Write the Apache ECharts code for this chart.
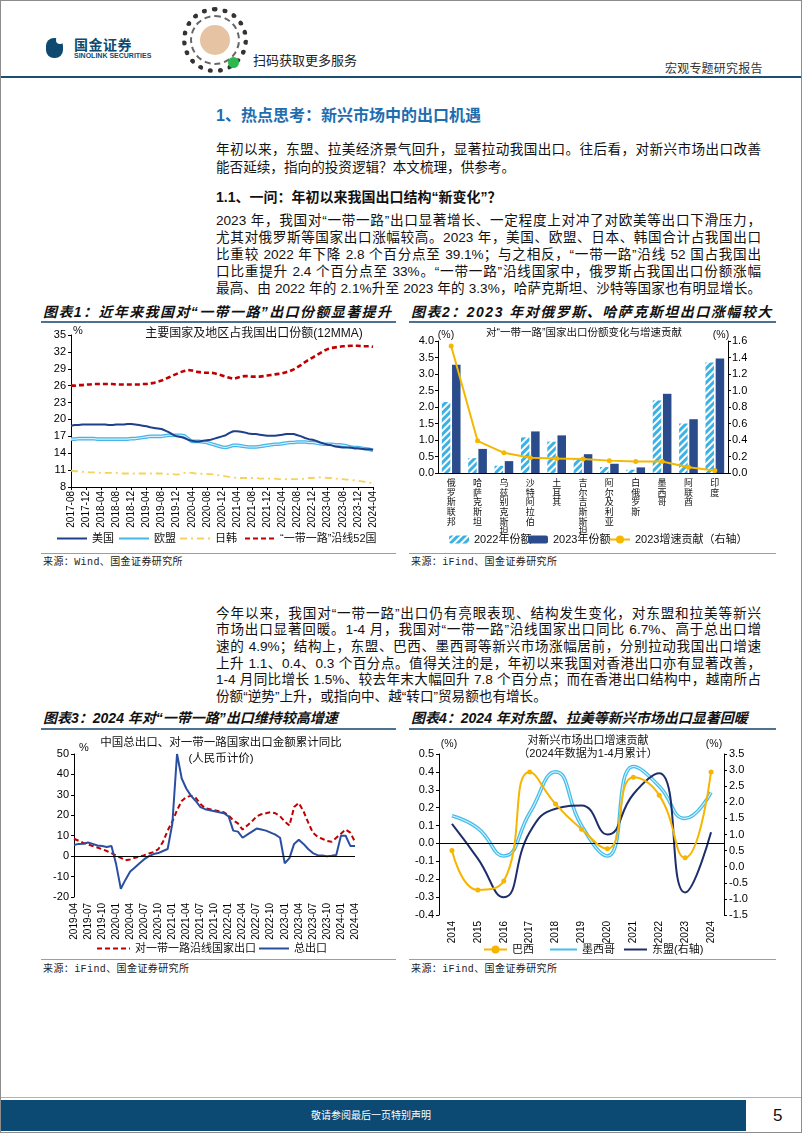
<!DOCTYPE html>
<html><head><meta charset="utf-8">
<script src="https://cdn.jsdelivr.net/npm/echarts/dist/echarts.min.js"></script>
<style>
body{margin:0;background:#fff;}
#page{position:relative;width:802px;height:1133px;overflow:hidden;background:#fff;box-sizing:border-box;border:1px solid #8c8c8c;font-family:"Liberation Sans","Noto Sans CJK SC",sans-serif;color:#111;}
.a{position:absolute;white-space:nowrap;}
.ln{position:absolute;left:215px;width:545px;font-size:13.6px;line-height:17px;height:17px;text-align:justify;text-align-last:justify;white-space:normal;overflow:visible;color:#111;}
.ln.last{text-align-last:left;}
.ctitle{position:absolute;font-size:14px;font-weight:bold;font-style:italic;color:#111;white-space:nowrap;line-height:18px;}
.cline{position:absolute;height:2px;background:#4d7290;}
.sline{position:absolute;height:1px;background:#86a4b8;}
.src{position:absolute;font-family:"Liberation Mono","Noto Sans CJK SC",monospace;font-size:10px;color:#222;letter-spacing:0.4px;white-space:nowrap;line-height:12px;}
.chart{position:absolute;}
</style></head>
<body>
<div id="page">
  <!-- header -->
  <div class="a" style="left:45px;top:37px;width:17px;height:20px;background:#0e4a70;border-radius:8px 8px 8px 8px;"></div>
  <div class="a" style="left:55px;top:35px;width:8px;height:8px;background:#fff;border-radius:50%;"></div>
  <div class="a" style="left:73px;top:33px;font-size:14px;font-weight:bold;color:#0e4a70;letter-spacing:0.5px;">国金证券</div>
  <div class="a" style="left:73px;top:51px;font-size:7px;font-weight:bold;color:#0e4a70;">SINOLINK SECURITIES</div>
  <div class="a" style="left:181px;top:6px;width:56px;height:56px;border:5px dotted #333;border-radius:50%;"></div>
  <div class="a" style="left:189px;top:14px;width:50px;height:50px;border:2px dashed #666;border-radius:50%;box-sizing:border-box;"></div>
  <div class="a" style="left:199px;top:24px;width:30px;height:30px;background:#e6c3a3;border-radius:50%;"></div>
  <div class="a" style="left:227px;top:56px;width:11px;height:11px;background:#2db84d;border-radius:50%;"></div>
  <div class="a" style="left:252px;top:49px;font-size:13px;color:#222;">扫码获取更多服务</div>
  <div class="a" style="left:664px;top:58px;font-size:12px;color:#333;letter-spacing:0.2px;">宏观专题研究报告</div>
  <div class="a" style="left:0;top:75px;width:802px;height:2px;background:#1e4e6e;"></div>

  <!-- body text -->
  <div class="a" style="left:215px;top:105px;font-size:16px;font-weight:bold;color:#1d6daf;line-height:20px;">1、热点思考：新兴市场中的出口机遇</div>
  <div class="ln" style="top:139.5px;">年初以来，东盟、拉美经济景气回升，显著拉动我国出口。往后看，对新兴市场出口改善</div>
  <div class="ln last" style="top:157.5px;">能否延续，指向的投资逻辑？本文梳理，供参考。</div>
  <div class="a" style="left:215px;top:187px;font-size:14px;font-weight:bold;line-height:18px;">1.1、一问：年初以来我国出口结构“新变化”？</div>
  <div class="ln" style="top:210.5px;">2023 年，我国对“一带一路”出口显著增长、一定程度上对冲了对欧美等出口下滑压力，</div>
  <div class="ln" style="top:227.5px;">尤其对俄罗斯等国家出口涨幅较高。2023 年，美国、欧盟、日本、韩国合计占我国出口</div>
  <div class="ln" style="top:244.5px;">比重较 2022 年下降 2.8 个百分点至 39.1%；与之相反，“一带一路”沿线 52 国占我国出</div>
  <div class="ln" style="top:261.5px;">口比重提升 2.4 个百分点至 33%。“一带一路”沿线国家中，俄罗斯占我国出口份额涨幅</div>
  <div class="ln" style="top:278.5px;">最高、由 2022 年的 2.1%升至 2023 年的 3.3%，哈萨克斯坦、沙特等国家也有明显增长。</div>

  <div class="ln" style="top:603.5px;">今年以来，我国对“一带一路”出口仍有亮眼表现、结构发生变化，对东盟和拉美等新兴</div>
  <div class="ln" style="top:620.2px;">市场出口显著回暖。1-4 月，我国对“一带一路”沿线国家出口同比 6.7%、高于总出口增</div>
  <div class="ln" style="top:636.9px;">速的 4.9%；结构上，东盟、巴西、墨西哥等新兴市场涨幅居前，分别拉动我国出口增速</div>
  <div class="ln" style="top:653.6px;">上升 1.1、0.4、0.3 个百分点。值得关注的是，年初以来我国对香港出口亦有显著改善，</div>
  <div class="ln" style="top:670.3px;">1-4 月同比增长 1.5%、较去年末大幅回升 7.8 个百分点；而在香港出口结构中，越南所占</div>
  <div class="ln last" style="top:687px;">份额“逆势”上升，或指向中、越“转口”贸易额也有增长。</div>

  <!-- chart frames -->
  <div class="ctitle" style="left:42px;top:302px;letter-spacing:1.4px;">图表1：近年来我国对“一带一路”出口份额显著提升</div>
  <div class="cline" style="left:40px;top:320px;width:355px;"></div>
  <div class="ctitle" style="left:410px;top:302px;letter-spacing:1.5px;">图表2：2023 年对俄罗斯、哈萨克斯坦出口涨幅较大</div>
  <div class="cline" style="left:408px;top:320px;width:367px;"></div>
  <div id="c1" class="chart" style="left:40px;top:323px;width:355px;height:229px;"></div>
  <div id="c2" class="chart" style="left:408px;top:323px;width:367px;height:229px;"></div>
  <div class="sline" style="left:40px;top:552px;width:355px;"></div>
  <div class="sline" style="left:408px;top:552px;width:367px;"></div>
  <div class="src" style="left:42px;top:556px;">来源：Wind、国金证券研究所</div>
  <div class="src" style="left:410px;top:556px;">来源：iFind、国金证券研究所</div>

  <div class="ctitle" style="left:42px;top:708px;">图表3：2024 年对“一带一路”出口维持较高增速</div>
  <div class="cline" style="left:40px;top:727px;width:355px;"></div>
  <div class="ctitle" style="left:410px;top:708px;">图表4：2024 年对东盟、拉美等新兴市场出口显著回暖</div>
  <div class="cline" style="left:408px;top:727px;width:367px;"></div>
  <div id="c3" class="chart" style="left:40px;top:730px;width:355px;height:228px;"></div>
  <div id="c4" class="chart" style="left:408px;top:730px;width:367px;height:228px;"></div>
  <div class="sline" style="left:40px;top:958px;width:355px;"></div>
  <div class="sline" style="left:408px;top:958px;width:367px;"></div>
  <div class="src" style="left:42px;top:963px;">来源：iFind、国金证券研究所</div>
  <div class="src" style="left:410px;top:963px;">来源：iFind、国金证券研究所</div>

  <!-- footer -->
  <div class="a" style="left:0;top:1096px;width:802px;height:1px;background:#8fbcd2;"></div>
  <div class="a" style="left:0;top:1099px;width:745px;height:31px;background:#0c4a73;"></div>
  <div class="a" style="left:310px;top:1108px;width:120px;text-align:center;font-size:10px;color:#fff;line-height:14px;">敬请参阅最后一页特别声明</div>
  <div class="a" style="left:772px;top:1105px;font-size:17px;color:#111;line-height:20px;">5</div>
</div>
<script>
const FF = '"Liberation Sans","Noto Sans CJK SC",sans-serif';

// ---------- Chart 1 data ----------
const months1 = ['2017-08','2017-09','2017-10','2017-11','2017-12',
'2018-01','2018-02','2018-03','2018-04','2018-05','2018-06','2018-07','2018-08','2018-09','2018-10','2018-11','2018-12',
'2019-01','2019-02','2019-03','2019-04','2019-05','2019-06','2019-07','2019-08','2019-09','2019-10','2019-11','2019-12',
'2020-01','2020-02','2020-03','2020-04','2020-05','2020-06','2020-07','2020-08','2020-09','2020-10','2020-11','2020-12',
'2021-01','2021-02','2021-03','2021-04','2021-05','2021-06','2021-07','2021-08','2021-09','2021-10','2021-11','2021-12',
'2022-01','2022-02','2022-03','2022-04','2022-05','2022-06','2022-07','2022-08','2022-09','2022-10','2022-11','2022-12',
'2023-01','2023-02','2023-03','2023-04','2023-05','2023-06','2023-07','2023-08','2023-09','2023-10','2023-11','2023-12',
'2024-01','2024-02','2024-03','2024-04'];
const us1 = [18.9,19.0,19.0,19.1,19.1,
19.1,19.1,19.1,19.1,19.1,19.0,19.0,19.1,19.1,19.1,19.2,19.2,
19.1,19.0,18.9,18.8,18.6,18.5,18.4,18.3,18.0,17.7,17.3,17.0,
16.9,16.7,16.4,16.2,16.1,16.1,16.2,16.3,16.4,16.6,16.8,17.0,
17.2,17.6,17.9,17.9,17.8,17.7,17.5,17.4,17.4,17.3,17.2,17.1,
17.1,17.1,17.2,17.3,17.4,17.4,17.4,17.2,17.0,16.7,16.5,16.4,
16.2,15.9,15.7,15.5,15.4,15.2,15.1,15.0,15.0,15.0,14.9,14.9,
14.8,14.7,14.7,14.6];
const eu1 = [16.5,16.5,16.6,16.6,16.6,
16.6,16.6,16.5,16.5,16.5,16.5,16.5,16.5,16.5,16.5,16.5,16.6,
16.6,16.7,16.8,16.9,17.0,17.0,17.0,17.0,17.1,17.2,17.2,17.2,
17.2,17.1,16.6,16.1,16.1,16.1,16.0,15.9,15.7,15.5,15.3,15.1,
15.0,15.2,15.4,15.4,15.3,15.2,15.1,15.1,15.1,15.2,15.3,15.4,
15.5,15.6,15.6,15.7,15.8,15.9,15.9,16.0,16.0,16.0,15.9,15.9,
15.8,15.7,15.6,15.6,15.6,15.5,15.5,15.4,15.3,15.1,15.0,15.0,
14.9,14.8,14.7,14.5];
const jk1 = [10.9,10.8,10.8,10.7,10.7,
10.6,10.6,10.6,10.5,10.5,10.5,10.5,10.5,10.4,10.4,10.4,10.4,
10.4,10.4,10.4,10.4,10.4,10.4,10.4,10.4,10.3,10.3,10.3,10.2,
10.3,10.5,10.6,10.5,10.4,10.4,10.3,10.3,10.3,10.2,10.1,10.0,
9.9,9.8,9.7,9.6,9.6,9.6,9.6,9.6,9.6,9.5,9.5,9.5,
9.5,9.5,9.4,9.4,9.4,9.4,9.4,9.4,9.4,9.5,9.6,9.6,
9.7,9.7,9.7,9.6,9.6,9.5,9.4,9.4,9.3,9.3,9.2,9.1,
9.0,8.9,8.8,8.7];
const br1 = [26.0,26.0,26.1,26.1,26.2,
26.2,26.3,26.3,26.3,26.3,26.3,26.3,26.2,26.2,26.2,26.2,26.2,
26.2,26.2,26.3,26.3,26.4,26.5,26.7,26.9,27.2,27.5,27.8,28.1,
28.4,28.6,28.8,28.7,28.5,28.4,28.3,28.3,28.3,28.2,28.0,27.8,
27.6,27.4,27.2,27.4,27.6,27.7,27.7,27.6,27.6,27.6,27.7,27.8,
27.9,28.0,28.1,28.2,28.4,28.6,28.9,29.3,29.7,30.2,30.6,31.0,
31.4,31.8,32.2,32.5,32.7,32.8,32.9,33.0,33.0,33.1,33.1,33.1,
33.0,33.0,33.0,32.9];

// ---------- Chart 2 data ----------
const cats2 = ['俄罗斯联邦','哈萨克斯坦','乌兹别克斯坦','沙特阿拉伯','土耳其','吉尔吉斯斯坦','阿尔及利亚','白俄罗斯','墨西哥','阿联酋','印度'];
const share2022 = [2.15,0.45,0.22,1.08,0.95,0.42,0.18,0.10,2.20,1.50,3.35];
const share2023 = [3.28,0.73,0.36,1.26,1.14,0.57,0.28,0.17,2.40,1.63,3.47];
const contrib2023 = [1.54,0.39,0.245,0.185,0.175,0.17,0.15,0.14,0.14,0.07,0.03];

// ---------- Chart 3 data ----------
const months3 = ['2019-04','2019-05','2019-06','2019-07','2019-08','2019-09','2019-10','2019-11','2019-12',
'2020-01','2020-02','2020-03','2020-04','2020-05','2020-06','2020-07','2020-08','2020-09','2020-10','2020-11','2020-12',
'2021-01','2021-02','2021-03','2021-04','2021-05','2021-06','2021-07','2021-08','2021-09','2021-10','2021-11','2021-12',
'2022-01','2022-02','2022-03','2022-04','2022-05','2022-06','2022-07','2022-08','2022-09','2022-10','2022-11','2022-12',
'2023-01','2023-02','2023-03','2023-04','2023-05','2023-06','2023-07','2023-08','2023-09','2023-10','2023-11','2023-12',
'2024-01','2024-02','2024-03','2024-04'];
const beltRoad3 = [8.5,7.5,6.5,5.7,5.0,4.2,3.4,2.5,1.5,
0.2,-0.8,-2.0,-1.6,-0.8,-0.2,0.5,1.3,2.0,3.4,7.0,12.5,
17.0,22.5,27.0,29.0,29.5,28.5,25.5,23.5,23.0,22.5,22.0,21.5,
20.0,17.5,16.0,13.0,15.0,17.0,19.5,20.5,21.0,21.5,21.0,19.5,
17.0,15.0,24.0,26.0,22.0,16.5,11.5,9.5,8.5,7.5,7.0,9.0,
11.0,13.0,11.5,7.0];
const total3 = [5.5,6.0,6.1,6.7,6.0,5.2,5.0,4.5,5.0,
-4.0,-16.0,-11.5,-7.5,-5.5,-3.5,-1.5,0.0,1.0,1.5,2.5,3.5,
16.0,50.0,38.0,33.0,29.5,27.0,24.0,23.0,22.5,22.0,21.5,21.0,
19.5,12.5,12.0,9.0,10.5,12.0,13.5,13.0,12.5,11.5,10.5,9.0,
-3.5,-1.0,6.0,8.0,6.0,3.5,1.5,0.5,0.3,0.0,0.2,0.6,
10.0,10.0,5.0,5.0];

// ---------- Chart 4 data ----------
const years4 = ['2014','2015','2016','2017','2018','2019','2020','2021','2022','2023','2024'];
const brazil4 = [-0.04,-0.26,-0.21,0.40,0.22,0.08,-0.03,0.37,0.27,-0.08,0.40];
const mexico4 = [0.155,0.085,-0.07,0.17,0.40,0.10,-0.07,0.43,0.32,0.14,0.285];
const asean4 = [1.33,0.25,-0.95,1.07,1.80,1.90,1.00,2.25,2.90,-0.80,1.07];

// ---------- helpers ----------
const txt = (t, x, y, size, align) => ({type:'text', x:x, y:y, silent:true,
  style:{text:t, fontSize:size, fontFamily:FF, fill:'#111', align:align||'center', verticalAlign:'middle'}});
// legend for one item; noSym hides the marker drawn for line series
const lg = (name, left, top, w, h, noSym) => {
  const o = {data:[name], left:left, top:top, padding:0, itemGap:0,
    itemWidth:w, itemHeight:h||10, textStyle:{fontSize:11, color:'#111', fontFamily:FF}, selectedMode:false};
  if (noSym) o.itemStyle = {opacity:0};
  return o;
};
const zeroLine = {silent:true, symbol:'none', label:{show:false}, lineStyle:{color:'#000', width:1, type:'solid'}, data:[{yAxis:0}]};

// ---------- Chart 1 ----------
const c1 = echarts.init(document.getElementById('c1'));
c1.setOption({
  animation:false,
  textStyle:{fontFamily:FF},
  graphic:[txt('主要国家及地区占我国出口份额(12MMA)', 213, 10, 12), txt('%', 37, 7, 11)],
  grid:{left:30, right:23, top:11, bottom:66, outerBoundsMode:'none'},
  legend:[lg('美国',15,209,30,10,true), lg('欧盟',77,209,30,10,true), lg('日韩',138,209,30,10,true), lg('“一带一路”沿线52国',203,209,30,10,true)],
  xAxis:{type:'category', data:months1, boundaryGap:false,
    axisLine:{show:true, onZero:false, lineStyle:{color:'#000'}},
    axisTick:{show:true, interval:3, length:3, lineStyle:{color:'#000'}},
    axisLabel:{interval:3, rotate:90, fontSize:10, color:'#000', margin:4, fontFamily:FF}},
  yAxis:{type:'value', min:8, max:35, interval:3,
    axisLine:{show:true, lineStyle:{color:'#000'}}, axisTick:{show:true, length:3, lineStyle:{color:'#000'}},
    splitLine:{show:false}, axisLabel:{fontSize:11, color:'#000', margin:5, fontFamily:FF}},
  series:[
    {name:'美国', type:'line', data:us1, symbol:'none', lineStyle:{color:'#203f8a', width:2}, itemStyle:{color:'#203f8a'}, z:4},
    {name:'欧盟', type:'line', data:eu1, symbol:'none', lineStyle:{color:'#46b5e8', width:3.6}, itemStyle:{color:'#46b5e8'}, z:2},
    {name:'欧盟_inner', type:'line', data:eu1, symbol:'none', lineStyle:{color:'#d6f0fb', width:1.1}, z:3},
    {name:'日韩', type:'line', data:jk1, symbol:'none', lineStyle:{color:'#f5d35a', width:1.8, type:[7,4,2,4]}, itemStyle:{color:'#f5d35a'}},
    {name:'“一带一路”沿线52国', type:'line', data:br1, symbol:'none', lineStyle:{color:'#c00000', width:2.6, type:[5,3]}, itemStyle:{color:'#c00000'}}
  ]
});

// ---------- Chart 2 ----------
const c2 = echarts.init(document.getElementById('c2'));
c2.setOption({
  animation:false,
  textStyle:{fontFamily:FF},
  graphic:[txt('对“一带一路”国家出口份额变化与增速贡献', 175, 9, 10.5), txt('(%)', 37, 11, 10.5), txt('(%)', 312, 11, 10.5)],
  grid:{left:29, right:48, top:17, bottom:80, outerBoundsMode:'none'},
  legend:[lg('2022年份额',40,210,20,8), lg('2023年份额',119,210,20,8), lg('2023增速贡献（右轴）',200,210,20,10)],
  xAxis:{type:'category', data:cats2,
    axisLine:{show:true, lineStyle:{color:'#000'}}, axisTick:{show:false},
    axisLabel:{interval:0, fontSize:9, lineHeight:9.6, color:'#111', margin:6, fontFamily:FF, verticalAlign:'top',
      overflow:'none', hideOverlap:false, formatter:v => v.split('').join('\n')}},
  yAxis:[
    {type:'value', min:0, max:4, interval:0.5, axisLine:{show:true, lineStyle:{color:'#000'}},
      axisTick:{show:true, length:3, lineStyle:{color:'#000'}}, splitLine:{show:false},
      axisLabel:{fontSize:11, color:'#000', margin:4, formatter:v => v.toFixed(1), fontFamily:FF}},
    {type:'value', min:0, max:1.6, interval:0.2, position:'right', axisLine:{show:true, lineStyle:{color:'#000'}},
      axisTick:{show:true, length:3, lineStyle:{color:'#000'}}, splitLine:{show:false},
      axisLabel:{fontSize:11, color:'#000', margin:4, formatter:v => v.toFixed(1), fontFamily:FF}}
  ],
  series:[
    {name:'2022年份额', type:'bar', data:share2022, barWidth:8.5, barGap:'20%',
      itemStyle:{color:'#ffffff', decal:{symbol:'rect', symbolSize:1, dashArrayX:[1,0], dashArrayY:[2.2,1.6], rotation:-Math.PI/4, color:'#3db1e3'}}},
    {name:'2023年份额', type:'bar', data:share2023, barWidth:8.5, itemStyle:{color:'#2b4c8c'}},
    {name:'2023增速贡献（右轴）', type:'line', yAxisIndex:1, data:contrib2023, symbol:'circle', symbolSize:5,
      lineStyle:{color:'#f5b800', width:2}, itemStyle:{color:'#f5b800'}, z:5}
  ]
});

// ---------- Chart 3 ----------
const c3 = echarts.init(document.getElementById('c3'));
c3.setOption({
  animation:false,
  textStyle:{fontFamily:FF},
  graphic:[txt('中国总出口、对一带一路国家出口金额累计同比', 180, 12, 11.5), txt('(人民币计价)', 180, 28, 11.5), txt('%', 43, 17, 11)],
  grid:{left:33, right:41, top:23, bottom:62, outerBoundsMode:'none'},
  legend:[lg('对一带一路沿线国家出口',55,212,33,10,true), lg('总出口',217,212,30,10,true)],
  xAxis:{type:'category', data:months3, boundaryGap:false,
    axisLine:{show:false, onZero:false}, axisTick:{show:false},
    axisLabel:{interval:2, rotate:90, fontSize:10, color:'#000', margin:6, fontFamily:FF}},
  yAxis:{type:'value', min:-20, max:50, interval:10,
    axisLine:{show:true, lineStyle:{color:'#000'}}, axisTick:{show:true, length:3, lineStyle:{color:'#000'}},
    splitLine:{show:false}, axisLabel:{fontSize:11, color:'#000', margin:5, fontFamily:FF}},
  series:[
    {name:'对一带一路沿线国家出口', type:'line', data:beltRoad3, symbol:'none', lineStyle:{color:'#c00000', width:2, type:[5,3]}, itemStyle:{color:'#c00000'}, markLine:zeroLine},
    {name:'总出口', type:'line', data:total3, symbol:'none', lineStyle:{color:'#2a4fa0', width:2}, itemStyle:{color:'#2a4fa0'}}
  ]
});

// ---------- Chart 4 ----------
const c4 = echarts.init(document.getElementById('c4'));
c4.setOption({
  animation:false,
  textStyle:{fontFamily:FF},
  graphic:[txt('对新兴市场出口增速贡献', 179, 10, 11), txt('（2024年数据为1-4月累计）', 179, 23, 11),
           txt('(%)', 40, 13, 10.5), txt('(%)', 305, 13, 10.5)],
  grid:{left:30, right:52, top:23, bottom:44, outerBoundsMode:'none'},
  legend:[lg('巴西',74,213,23), lg('墨西哥',140,213,27,10,true), lg('东盟(右轴)',214,213,23,10,true)],
  xAxis:{type:'category', data:years4,
    axisLine:{show:false, onZero:false}, axisTick:{show:false},
    axisLabel:{interval:0, rotate:90, fontSize:10, color:'#000', margin:6, fontFamily:FF}},
  yAxis:[
    {type:'value', min:-0.4, max:0.5, interval:0.1, axisLine:{show:true, lineStyle:{color:'#000'}},
      axisTick:{show:true, length:3, lineStyle:{color:'#000'}}, splitLine:{show:false},
      axisLabel:{fontSize:11, color:'#000', margin:5, formatter:v => v.toFixed(1), fontFamily:FF}},
    {type:'value', min:-1.5, max:3.5, interval:0.5, position:'right', axisLine:{show:true, lineStyle:{color:'#000'}},
      axisTick:{show:true, length:3, lineStyle:{color:'#000'}}, splitLine:{show:false},
      axisLabel:{fontSize:11, color:'#000', margin:5, formatter:v => v.toFixed(1), fontFamily:FF}}
  ],
  series:[
    {name:'巴西', type:'line', data:brazil4, smooth:0.5, symbol:'circle', symbolSize:5,
      lineStyle:{color:'#f7b500', width:2}, itemStyle:{color:'#f7b500'}, z:5, markLine:zeroLine},
    {name:'墨西哥', type:'line', data:mexico4, smooth:0.5, symbol:'none', lineStyle:{color:'#45bdeb', width:3.6}, itemStyle:{color:'#45bdeb'}, z:2},
    {name:'墨西哥_inner', type:'line', data:mexico4, smooth:0.5, symbol:'none', lineStyle:{color:'#d3f0fc', width:1.1}, z:3},
    {name:'东盟(右轴)', type:'line', yAxisIndex:1, data:asean4, smooth:0.5, symbol:'none', lineStyle:{color:'#1e2e6b', width:2}, itemStyle:{color:'#1e2e6b'}, z:4}
  ]
});
</script>
</body></html>
